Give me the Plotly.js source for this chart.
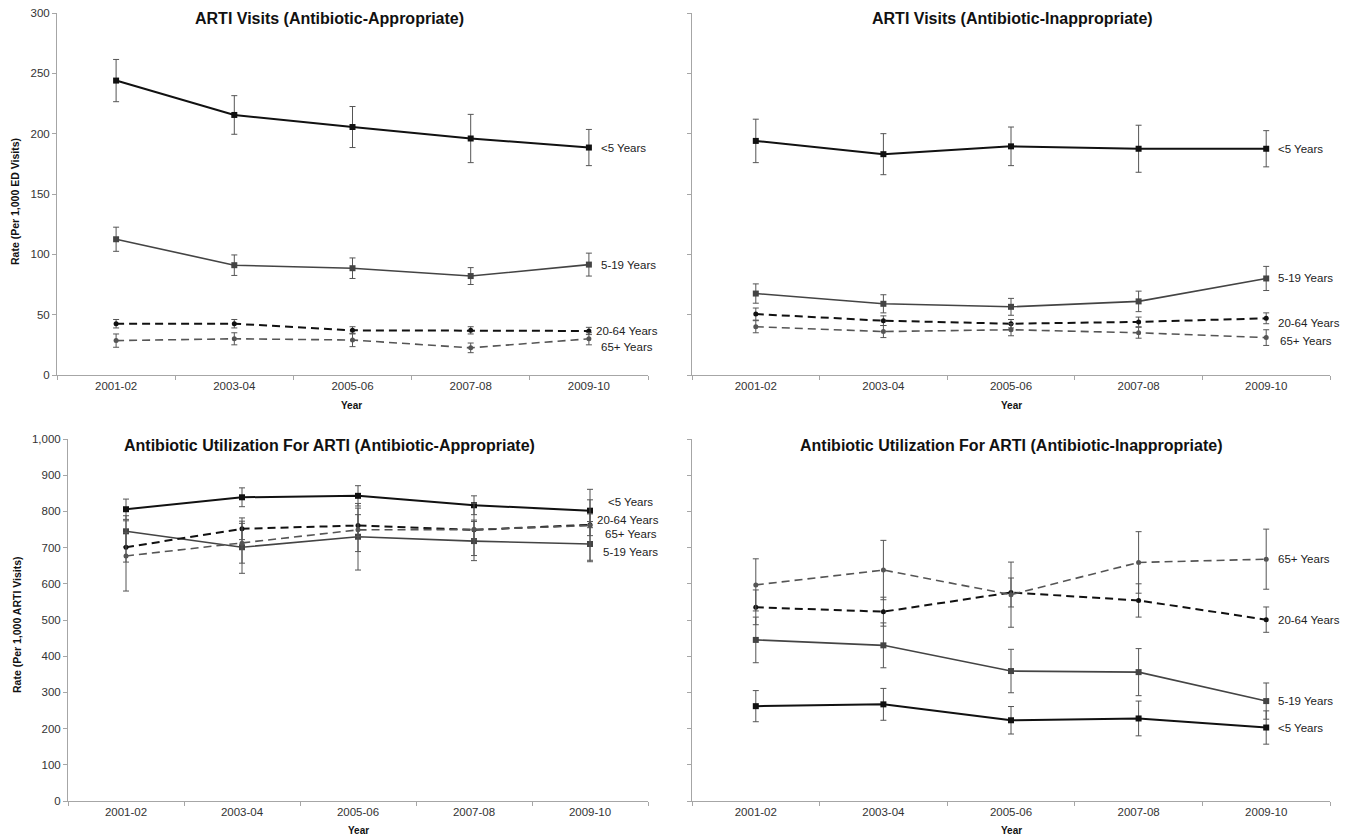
<!DOCTYPE html>
<html>
<head>
<meta charset="utf-8">
<script src="https://cdn.plot.ly/plotly-3.0.1.min.js"></script>
<style>html,body{margin:0;padding:0;background:#fff;}#chart{width:1351px;height:838px;}</style>
</head>
<body>
<div id="chart"></div>
<script>
// ---------- DATA ----------
const categories = ['2001-02', '2003-04', '2005-06', '2007-08', '2009-10'];
const groups = ['<5 Years', '5-19 Years', '20-64 Years', '65+ Years'];
const panelTitles = [
  'ARTI Visits (Antibiotic-Appropriate)',
  'ARTI Visits (Antibiotic-Inappropriate)',
  'Antibiotic Utilization For ARTI (Antibiotic-Appropriate)',
  'Antibiotic Utilization For ARTI (Antibiotic-Inappropriate)'
];
const yTitleTop = 'Rate (Per 1,000 ED Visits)';
const yTitleBottom = 'Rate (Per 1,000 ARTI Visits)';
const xTitle = 'Year';

// Panel 1: ARTI visits, antibiotic-appropriate
const visitsApp_lt5      = [244, 215.5, 205.5, 196, 188.5];
const visitsApp_lt5_err  = [17.5, 16, 17, 20, 15];
const visitsApp_5to19     = [112.5, 91, 88.5, 82, 91.5];
const visitsApp_5to19_err = [10, 8.5, 8.5, 7, 9.5];
const visitsApp_20to64     = [42.5, 42.5, 37, 37, 36.5];
const visitsApp_20to64_err = [3.5, 3.5, 3, 3, 3];
const visitsApp_65plus     = [28.5, 30, 29, 22.5, 30];
const visitsApp_65plus_err = [5.5, 5, 5.5, 4, 5];

// Panel 2: ARTI visits, antibiotic-inappropriate
const visitsInapp_lt5      = [194, 183, 189.5, 187.5, 187.5];
const visitsInapp_lt5_err  = [18, 17, 16, 19.5, 15];
const visitsInapp_5to19     = [67.5, 59, 56.5, 61, 80];
const visitsInapp_5to19_err = [8, 7.5, 7, 8.5, 10];
const visitsInapp_20to64     = [50.5, 45, 42.5, 44, 47];
const visitsInapp_20to64_err = [5, 4, 3.5, 4, 4.5];
const visitsInapp_65plus     = [40, 36, 37.5, 35, 31];
const visitsInapp_65plus_err = [5, 5, 5, 4.5, 6.5];

// Panel 3: Antibiotic utilization, antibiotic-appropriate
const utilApp_lt5      = [806, 839, 843, 817, 802];
const utilApp_lt5_err  = [28, 26, 28, 26, 30];
const utilApp_5to19     = [745, 701, 730, 718, 710];
const utilApp_5to19_err = [43, 72, 92, 54, 45];
const utilApp_20to64     = [701, 752, 761, 749, 763];
const utilApp_20to64_err = [41, 30, 30, 27, 30];
const utilApp_65plus     = [677, 712, 749, 750, 761];
const utilApp_65plus_err = [97, 55, 60, 72, 100];

// Panel 4: Antibiotic utilization, antibiotic-inappropriate
const utilInapp_lt5      = [262, 267, 223, 228, 203];
const utilInapp_lt5_err  = [43, 44, 38, 48, 46];
const utilInapp_5to19     = [445, 430, 359, 356, 276];
const utilInapp_5to19_err = [63, 62, 60, 65, 50];
const utilInapp_20to64     = [535, 523, 576, 554, 501];
const utilInapp_20to64_err = [48, 40, 40, 46, 35];
const utilInapp_65plus     = [597, 638, 570, 659, 668];
const utilInapp_65plus_err = [72, 82, 90, 85, 83];

// ---------- STYLE ----------
const FONT = '"Liberation Sans", Arial, sans-serif';
const styles = [
  {color: '#111111', width: 2,   dash: 'solid',     symbol: 'square', size: 6},
  {color: '#444444', width: 1.6, dash: 'solid',     symbol: 'square', size: 6},
  {color: '#111111', width: 2,   dash: '8px,5px',   symbol: 'circle', size: 5},
  {color: '#555555', width: 1.6, dash: '8px,5px',   symbol: 'circle', size: 5}
];

const panels = [
  {ax: '', series: [[visitsApp_lt5, visitsApp_lt5_err], [visitsApp_5to19, visitsApp_5to19_err], [visitsApp_20to64, visitsApp_20to64_err], [visitsApp_65plus, visitsApp_65plus_err]],
   labelOffsets: [[10, 0], [10, 0], [5, 0], [10, -8]]},
  {ax: '2', series: [[visitsInapp_lt5, visitsInapp_lt5_err], [visitsInapp_5to19, visitsInapp_5to19_err], [visitsInapp_20to64, visitsInapp_20to64_err], [visitsInapp_65plus, visitsInapp_65plus_err]],
   labelOffsets: [[10, 0], [10, 0], [10, -5], [12, -3]]},
  {ax: '3', series: [[utilApp_lt5, utilApp_lt5_err], [utilApp_5to19, utilApp_5to19_err], [utilApp_20to64, utilApp_20to64_err], [utilApp_65plus, utilApp_65plus_err]],
   labelOffsets: [[16, 9], [11, -8], [5, 5], [13, -8]]},
  {ax: '4', series: [[utilInapp_lt5, utilInapp_lt5_err], [utilInapp_5to19, utilInapp_5to19_err], [utilInapp_20to64, utilInapp_20to64_err], [utilInapp_65plus, utilInapp_65plus_err]],
   labelOffsets: [[10, 0], [10, 0], [10, 0], [10, 0]]}
];

const traces = [];
const annotations = [];
panels.forEach((p, pi) => {
  p.series.forEach((s, si) => {
    const st = styles[si];
    traces.push({
      type: 'scatter', mode: 'lines+markers',
      x: categories, y: s[0], name: groups[si],
      xaxis: 'x' + p.ax, yaxis: 'y' + p.ax,
      line: {color: st.color, width: st.width, dash: st.dash},
      marker: {color: st.color, symbol: st.symbol, size: st.size},
      error_y: {type: 'data', array: s[1], visible: true, color: '#555555', thickness: 1, width: 3},
      showlegend: false, hoverinfo: 'x+y'
    });
    const last = categories.length - 1;
    annotations.push({
      xref: 'x' + p.ax, yref: 'y' + p.ax,
      x: categories[last], y: s[0][last],
      text: groups[si], showarrow: false,
      xanchor: 'left', yanchor: 'middle',
      xshift: p.labelOffsets[si][0], yshift: p.labelOffsets[si][1],
      font: {family: FONT, size: 11.5, color: '#222222'}
    });
  });
});

// Domains (paper fractions)
const W = 1351, H = 838;
const dx = (a, b) => [a / W, b / W];
const dy = (top, bottom) => [1 - bottom / H, 1 - top / H];
const domTL = {x: dx(57, 648), y: dy(13, 375)};
const domTR = {x: dx(692, 1330), y: dy(13, 375)};
const domBL = {x: dx(68, 648), y: dy(439, 801)};
const domBR = {x: dx(692, 1330), y: dy(439, 801)};

const axisCommon = {
  showline: true, linecolor: '#a6a6a6', linewidth: 1,
  ticks: 'outside', ticklen: 4, tickcolor: '#a6a6a6',
  showgrid: false, zeroline: false,
  tickfont: {family: FONT, size: 11.5, color: '#333333'}
};
function xAxis(dom, anchor) {
  return Object.assign({}, axisCommon, {
    domain: dom, anchor: anchor, type: 'category',
    categoryorder: 'array', categoryarray: categories,
    range: [-0.5, categories.length - 0.5], tickson: 'boundaries'
  });
}
function yAxis(dom, anchor, max, dtick, showLabels) {
  return Object.assign({}, axisCommon, {
    domain: dom, anchor: anchor, range: [0, max], dtick: dtick,
    tickformat: ',d', showticklabels: showLabels
  });
}

// Titles as paper annotations
function addText(text, x, y, size, angle) {
  annotations.push({
    xref: 'paper', yref: 'paper', x: x / W, y: 1 - y / H,
    text: text, showarrow: false,
    xanchor: 'center', yanchor: 'middle', textangle: angle || 0,
    font: {family: FONT, size: size, color: '#111111', weight: 700}
  });
}
addText(panelTitles[0], 329, 19, 16);
addText(panelTitles[1], 1013, 19, 16);
addText(panelTitles[2], 329, 445, 16);
addText(panelTitles[3], 1011, 445, 16);
addText(xTitle, 352, 405, 10);
addText(xTitle, 1011, 405, 10);
addText(xTitle, 358, 830, 10);
addText(xTitle, 1011, 830, 10);
addText(yTitleTop, 15, 202, 10.5, -90);
addText(yTitleBottom, 17, 625, 10.5, -90);

const layout = {
  width: W, height: H,
  margin: {l: 0, r: 0, t: 0, b: 0},
  paper_bgcolor: '#ffffff', plot_bgcolor: '#ffffff',
  showlegend: false,
  font: {family: FONT},
  xaxis:  xAxis(domTL.x, 'y'),
  yaxis:  yAxis(domTL.y, 'x', 300, 50, true),
  xaxis2: xAxis(domTR.x, 'y2'),
  yaxis2: yAxis(domTR.y, 'x2', 300, 50, false),
  xaxis3: xAxis(domBL.x, 'y3'),
  yaxis3: yAxis(domBL.y, 'x3', 1000, 100, true),
  xaxis4: xAxis(domBR.x, 'y4'),
  yaxis4: yAxis(domBR.y, 'x4', 1000, 100, false),
  annotations: annotations
};

Plotly.newPlot('chart', traces, layout, {displayModeBar: false, staticPlot: true});
</script>
</body>
</html>
